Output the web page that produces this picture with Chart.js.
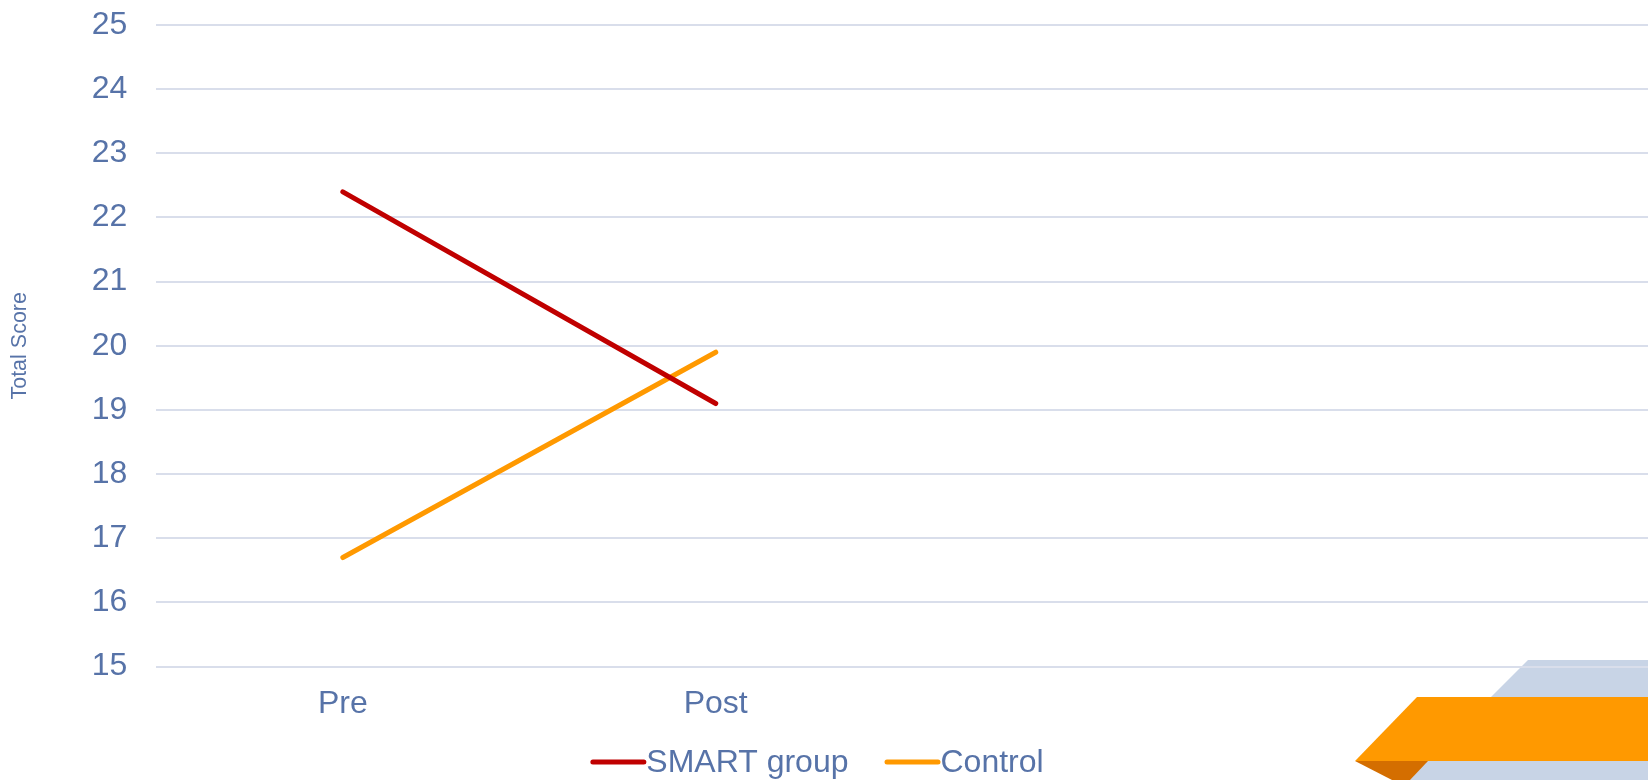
<!DOCTYPE html>
<html>
<head>
<meta charset="utf-8">
<script src="https://cdn.jsdelivr.net/npm/chart.js@4"></script>
<style>
  html, body { margin: 0; padding: 0; background: #ffffff; }
  #wrap { position: relative; width: 1648px; height: 780px; overflow: hidden; }
  #deco { position: absolute; left: 0; top: 0; }
  #chart { position: absolute; left: 0; top: 0; }
</style>
</head>
<body>
<div id="wrap">
  <!-- corner ribbon shapes behind the chart -->
  <svg id="deco" width="1648" height="780" viewBox="0 0 1648 780">
    <polygon points="1528,660 1648,660 1648,780 1408,780" fill="#C8D4E6"/>
    <polygon points="1355,761 1428,761 1410,780 1392,780" fill="#D46E00"/>
    <polygon points="1417,697 1648,697 1648,761 1355,761" fill="#FF9900"/>
  </svg>
  <canvas id="chart" width="1648" height="780"></canvas>
</div>
<script>
// Time points (two empty slots keep the plot area wide)
const categories = ['Pre', 'Post', '', ''];
// Mean total score per group
const smartGroup = [22.4, 19.1, null, null];
const controlGroup = [16.7, 19.9, null, null];
// Value axis range
const yMin = 15;
const yMax = 25;
const yStep = 1;

const TEXT = '#5773A8';
const GRID = '#D9DEEB';
const FONT = '"Liberation Sans", Arial, sans-serif';

// Legend drawn as line swatch followed directly by its label
const bottomKey = {
  id: 'bottomKey',
  afterDraw(chart) {
    const ctx = chart.ctx;
    const items = chart.data.datasets.map(ds => ({ text: ds.label, color: ds.borderColor }));
    const swatch = 56, gap = 36, baseline = 772, lineY = 762;
    ctx.save();
    ctx.font = '32px ' + FONT;
    let total = 0;
    items.forEach((it, i) => {
      it.w = ctx.measureText(it.text).width;
      total += swatch + it.w + (i ? gap : 0);
    });
    let x = chart.width / 2 - 7 - total / 2;
    items.forEach(it => {
      ctx.strokeStyle = it.color;
      ctx.lineWidth = 5;
      ctx.lineCap = 'round';
      ctx.beginPath();
      ctx.moveTo(x + 2.5, lineY);
      ctx.lineTo(x + swatch - 2.5, lineY);
      ctx.stroke();
      ctx.fillStyle = TEXT;
      ctx.textBaseline = 'alphabetic';
      ctx.textAlign = 'left';
      ctx.fillText(it.text, x + swatch, baseline);
      x += swatch + it.w + gap;
    });
    ctx.restore();
  }
};

new Chart(document.getElementById('chart'), {
  type: 'line',
  data: {
    labels: categories,
    datasets: [
      {
        label: 'SMART group',
        data: smartGroup,
        borderColor: '#C00000',
        backgroundColor: '#C00000',
        borderWidth: 5,
        borderCapStyle: 'round',
        pointRadius: 0,
        pointHoverRadius: 0,
        tension: 0,
        fill: false
      },
      {
        label: 'Control',
        data: controlGroup,
        borderColor: '#FF9900',
        backgroundColor: '#FF9900',
        borderWidth: 5,
        borderCapStyle: 'round',
        pointRadius: 0,
        pointHoverRadius: 0,
        tension: 0,
        fill: false
      }
    ]
  },
  options: {
    responsive: false,
    animation: false,
    devicePixelRatio: 1,
    layout: { padding: { top: 25, right: 0, bottom: 39, left: 0 } },
    plugins: {
      legend: { display: false },
      tooltip: { enabled: false }
    },
    scales: {
      x: {
        offset: true,
        grid: { display: false, drawTicks: false },
        border: { display: false },
        ticks: {
          color: TEXT,
          font: { family: FONT, size: 32 },
          padding: 18,
          maxRotation: 0,
          autoSkip: false
        }
      },
      y: {
        min: yMin,
        max: yMax,
        grid: {
          color: GRID,
          lineWidth: 2,
          drawTicks: true,
          tickLength: 29,
          tickColor: 'rgba(0,0,0,0)'
        },
        border: { display: false },
        ticks: {
          stepSize: yStep,
          color: TEXT,
          font: { family: FONT, size: 32 },
          padding: 0
        },
        title: {
          display: true,
          text: 'Total Score',
          color: TEXT,
          font: { family: FONT, size: 21.5 },
          padding: { top: 7, bottom: 59 }
        }
      }
    }
  },
  plugins: [bottomKey]
});
</script>
</body>
</html>
